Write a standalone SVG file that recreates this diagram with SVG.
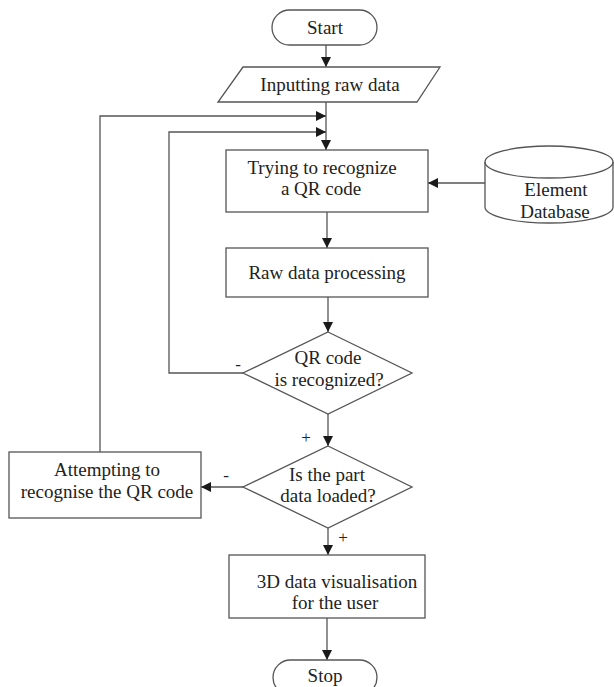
<svg xmlns="http://www.w3.org/2000/svg" width="614" height="687" viewBox="0 0 614 687">
  <defs>
    <marker id="arrow" viewBox="0 0 10 10" refX="10" refY="5" markerWidth="10" markerHeight="10" markerUnits="userSpaceOnUse" orient="auto">
      <path d="M0,0 L10,5 L0,10 z" fill="#1a1a1a"/>
    </marker>
    <style>
      .shape { fill: #ffffff; stroke: #555555; stroke-width: 1.3; }
      .line { fill: none; stroke: #555555; stroke-width: 1.3; }
      text { font-family: 'Liberation Serif', 'DejaVu Serif', 'Times New Roman', serif; fill: #222222; text-anchor: middle; }
      .label { font-size: 19px; }
      .sign { font-size: 17px; }
    </style>
  </defs>
  <rect width="614" height="687" fill="#ffffff"/>

  <!-- connectors and their +/- branch labels -->
  <g id="connectors">
    <line class="line" x1="326" y1="45" x2="326" y2="67" marker-end="url(#arrow)"/>
    <line class="line" x1="326" y1="102" x2="326" y2="150" marker-end="url(#arrow)"/>
    <polyline class="line" points="100,452 100,116 326,116" marker-end="url(#arrow)"/>
    <polyline class="line" points="243,373 169,373 169,132 326,132" marker-end="url(#arrow)"/>
    <line class="line" x1="485" y1="183" x2="428" y2="183" marker-end="url(#arrow)"/>
    <line class="line" x1="327" y1="212" x2="327" y2="248" marker-end="url(#arrow)"/>
    <line class="line" x1="328" y1="297" x2="328" y2="332" marker-end="url(#arrow)"/>
    <line class="line" x1="328" y1="414" x2="328" y2="446" marker-end="url(#arrow)"/>
    <line class="line" x1="243" y1="487" x2="201" y2="487" marker-end="url(#arrow)"/>
    <line class="line" x1="328" y1="528" x2="328" y2="555" marker-end="url(#arrow)"/>
    <line class="line" x1="327" y1="618" x2="327" y2="660" marker-end="url(#arrow)"/>
    <text class="sign" x="238" y="370">-</text>
    <text class="sign" x="306" y="443">+</text>
    <text class="sign" x="226" y="481">-</text>
    <text class="sign" x="343" y="543">+</text>
  </g>

  <g id="start">
    <rect class="shape" x="272" y="10" width="105" height="35" rx="17.5" ry="17.5"/>
    <text class="label" x="325" y="34">Start</text>
  </g>

  <g id="input">
    <polygon class="shape" points="243,67 440,67 417,102 218,102"/>
    <text class="label" x="330" y="91">Inputting raw data</text>
  </g>

  <g id="recognize">
    <rect class="shape" x="226" y="150" width="202" height="62"/>
    <text class="label" x="322" y="174">Trying to recognize</text>
    <text class="label" x="321" y="195">a QR code</text>
  </g>

  <g id="database">
    <path class="shape" d="M485,162 A64,16 0 0 1 613,162 L613,207 A64,16 0 0 1 485,207 Z"/>
    <path class="line" d="M485,162 A64,16 0 0 0 613,162"/>
    <text class="label" x="556" y="196">Element</text>
    <text class="label" x="555" y="218">Database</text>
  </g>

  <g id="processing">
    <rect class="shape" x="226" y="248" width="202" height="49"/>
    <text class="label" x="327" y="279">Raw data processing</text>
  </g>

  <g id="qr-check">
    <polygon class="shape" points="328,332 412,373 328,414 243,373"/>
    <text class="label" x="328" y="364">QR code</text>
    <text class="label" x="329" y="386">is recognized?</text>
  </g>

  <g id="data-check">
    <polygon class="shape" points="328,446 412,487 328,528 243,487"/>
    <text class="label" x="327" y="481">Is the part</text>
    <text class="label" x="328" y="502">data loaded?</text>
  </g>

  <g id="retry">
    <rect class="shape" x="9" y="452" width="192" height="66"/>
    <text class="label" x="107" y="476">Attempting to</text>
    <text class="label" x="107" y="498">recognise the QR code</text>
  </g>

  <g id="visualisation">
    <rect class="shape" x="229" y="555" width="196" height="63"/>
    <text class="label" x="337" y="588">3D data visualisation</text>
    <text class="label" x="335" y="609">for the user</text>
  </g>

  <g id="stop">
    <rect class="shape" x="273" y="660" width="104" height="35" rx="17.5" ry="17.5"/>
    <text class="label" x="325" y="682">Stop</text>
  </g>
</svg>
